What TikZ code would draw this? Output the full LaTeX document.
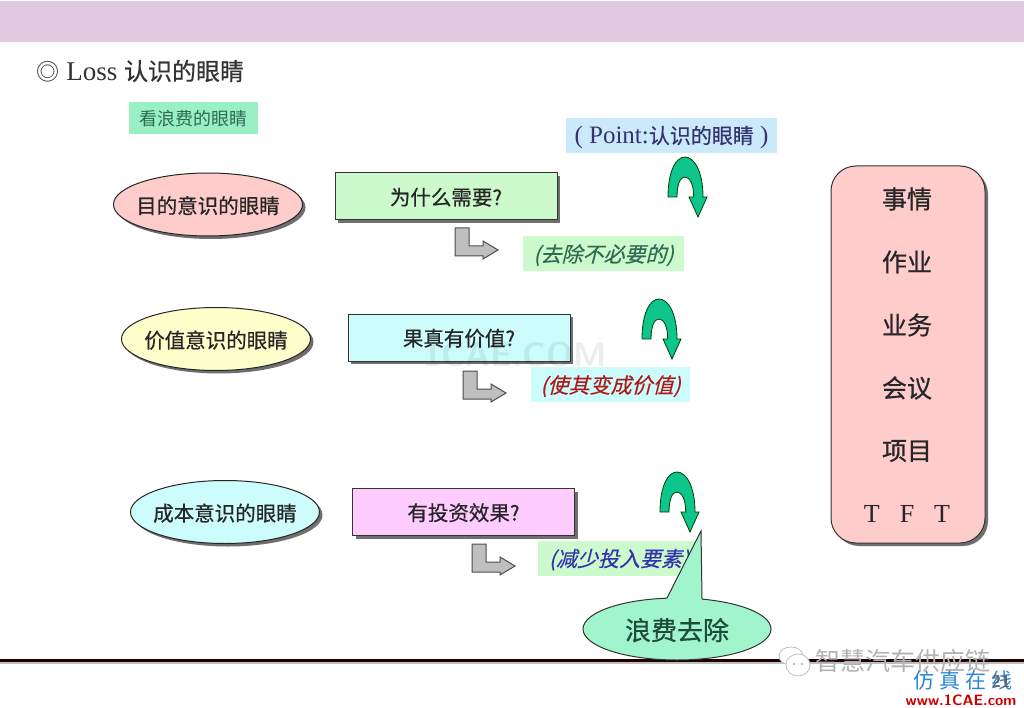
\documentclass[tikz,border=0pt]{standalone}
\usepackage{fontspec}
\setmainfont{Liberation Serif}
\newfontfamily\cjk{Noto Sans CJK SC}
\newfontfamily\cjkheavy[FakeBold=0.6]{Noto Sans CJK SC}
\newfontfamily\cjkslant[FakeSlant=0.25,FakeBold=0.3]{Noto Sans CJK SC}
\usetikzlibrary{positioning, shapes.geometric, shadows}

\definecolor{bandlilac}{HTML}{E1CAE1}
\definecolor{mintbox}{HTML}{99F0C4}
\definecolor{minttext}{HTML}{2F6B52}
\definecolor{paleblue}{HTML}{CCE8FB}
\definecolor{palegreen}{HTML}{CCFACC}
\definecolor{palecyan}{HTML}{CCFCFC}
\definecolor{palepink}{HTML}{FFCCCC}
\definecolor{paleyellow}{HTML}{FFFFCC}
\definecolor{palemagenta}{HTML}{FFCCFF}
\definecolor{uturngreen}{HTML}{0EC58B}
\definecolor{calloutgreen}{HTML}{A0F5CC}
\definecolor{simblue}{HTML}{2E86D8}

\newcommand{\sized}[1]{\fontsize{#1}{#1}\selectfont}

\tikzset{
  hardshadow/.style={drop shadow={shadow xshift=3pt,shadow yshift=-3pt,fill=black!75,opacity=.75}},
  eyeoval/.style={ellipse,draw=black!85,line width=1pt,hardshadow,minimum width=189pt,
                  minimum height=63pt,inner sep=-6pt,text=black!85,text height=20pt,text depth=2pt,
                  font=\cjkheavy\sized{20.5}},
  askbox/.style={rectangle,draw=black!80,line width=1pt,hardshadow,minimum width=222pt,
                 minimum height=47pt,inner sep=0pt,text=black!85,text height=19pt,text depth=2pt,
                 font=\cjkheavy\sized{20.5}},
  notebox/.style={rectangle,minimum height=35pt,inner sep=0pt,text height=20pt,text depth=3pt,
                  font=\cjkslant\sized{21}},
  jobtext/.style={text=black!85,font=\cjkheavy\sized{25}},
  lturn/.pic={
    \path[draw=black!70,fill=black!25,line width=1pt]
      (0,0) -- (14,0) -- (14,18) -- (28,18) -- (28,13) -- (43,22) -- (28,31)
      -- (28,28) -- (0,28) -- cycle;
  },
  uturn/.pic={
    \path[draw=black!60!green!60!black,fill=uturngreen,line width=.8pt]
      (0,0) .. controls (0,-26) and (8,-40) .. (17,-40)
      .. controls (26,-40) and (35,-26) .. (35,0) -- (39,0) -- (30,20) -- (21,0)
      -- (25.7,0) .. controls (25.7,-12) and (22,-20) .. (17,-20)
      .. controls (12,-20) and (9,-12) .. (9,0) -- cycle;
  }
}

\begin{document}
\begin{tikzpicture}[x=1pt,y=-1pt,on grid]
\useasboundingbox (0,0) rectangle (1024,708);
\fill[white] (0,0) rectangle (1024,708);
\fill[bandlilac] (0,1) rectangle (1024,42);

\node[anchor=west,text=black!80] (title) at (33,71)
  {{\cjk\sized{23}◎}\sized{27} Loss {\cjkheavy\sized{24}认识的眼睛}};

%% three rows
\node[eyeoval,fill=palepink]   (eye1) at (208,204.5) {目的意识的眼睛};
\node[eyeoval,fill=paleyellow] (eye2) [below right=134.5pt and 8pt of eye1] {价值意识的眼睛};
\node[eyeoval,fill=palecyan]   (eye3) [below right=173pt and 9pt of eye2] {成本意识的眼睛};

\node[askbox,fill=palegreen]   (ask1) [above right=8pt and 238pt of eye1] {为什么需要?};
\node[askbox,fill=palecyan]    (ask2) [above right=1.5pt and 243pt of eye2] {果真有价值?};
\node[askbox,fill=palemagenta] (ask3) [right=238.5pt of eye3] {有投资效果?};

\node[rectangle,fill=mintbox,text=minttext,minimum width=129pt,minimum height=32pt,
      inner sep=0pt,text height=17pt,text depth=2pt,font=\cjk\sized{18}]
      (look) [above left=86.5pt and 14.5pt of eye1] {看浪费的眼睛};
\node[rectangle,fill=paleblue,text=black!70!blue!80,minimum width=211pt,minimum height=35pt,
      inner sep=0pt,text height=21pt,text depth=5pt] (point) [above right=61pt and 225.5pt of ask1]
      {\sized{25}( Point:{\cjkheavy\sized{21}认识的眼睛} )};

\node[notebox,fill=palegreen,minimum width=161pt,text=minttext]
      (drop) [below right=57pt and 157.5pt of ask1] {(去除不必要的)};
\node[notebox,fill=palecyan,minimum width=159pt,text=red!65!black!90]
      (make) [below right=47pt and 151.5pt of ask2] {(使其变成价值)};
\node[notebox,fill=palegreen,minimum width=162pt,text=blue!60!black!80]
      (less) [below right=46pt and 155.5pt of ask3] {(减少投入要素)};

\pic (turn1) at (455,228) {lturn};
\pic (turn2) at (463,371) {lturn};
\pic (turn3) at (472,544) {lturn};

\pic (back1) at (668,197) {uturn};
\pic (back2) at (642,339) {uturn};
\pic (back3) at (660,512) {uturn};

%% right panel
\node[rectangle,rounded corners=25pt,draw=black!80,line width=1pt,fill=palepink,hardshadow,
      minimum width=154pt,minimum height=377pt] (panel) at (908,354.5) {};
\node[jobtext] (job1) at (907,199) {事情};
\node[jobtext] (job2) [below=63pt of job1] {作业};
\node[jobtext] (job3) [below=63pt of job2] {业务};
\node[jobtext] (job4) [below=63pt of job3] {会议};
\node[jobtext] (job5) [below=63pt of job4] {项目};
\node[text=black!85,font=\sized{26}] (job6) [below=63pt of job5] {T\hspace{20pt}F\hspace{20pt}T};

%% footer rule and callout
\fill[black!25] (0,661) rectangle (1024,664);
\fill[black!80!red!60!black] (0,659) rectangle (1024,662);
\node[ellipse,draw=black!80,line width=1pt,fill=calloutgreen,minimum width=188pt,minimum height=62pt,
      inner sep=0pt] (waste) at (677,629) {};
\coordinate (tip) at (701,531);
\path[fill=calloutgreen] (667,599) -- (tip) -- (702,601) -- cycle;
\draw[black!80,line width=1pt] (667,598) -- (tip) -- (702,599);
\node[text=minttext!70!black,text height=23pt,text depth=3pt,font=\cjkheavy\sized{26}] (wastetext) at (677,630) {浪费去除};

%% watermarks
\node[text=black,text opacity=.07,font=\sffamily\bfseries\sized{34}] (mark) at (515,355) {1CAE.COM};
\draw[black!25,fill=white,line width=.8pt] (791,656) ellipse (12pt and 9pt);
\draw[black!25,fill=white,line width=.8pt] (798,665) ellipse (12pt and 11pt);
\fill[black!35] (794,664) circle (1.2pt) (802,664) circle (1.2pt);
\node[text=black!30,font=\cjk\sized{25}] (chan) at (903,661) {智慧汽车供应链};
\node[text=simblue,font=\cjk\sized{21}] (sim) at (963,681) {仿 真 在 线};
\node[text=black!60,font=\sffamily\bfseries\sized{17}] (page) at (1001,681) {21};
\node[text=red!80!black,font=\sffamily\bfseries\sized{15}] (site) at (961,700) {www.1CAE.com};
\end{tikzpicture}
\end{document}
